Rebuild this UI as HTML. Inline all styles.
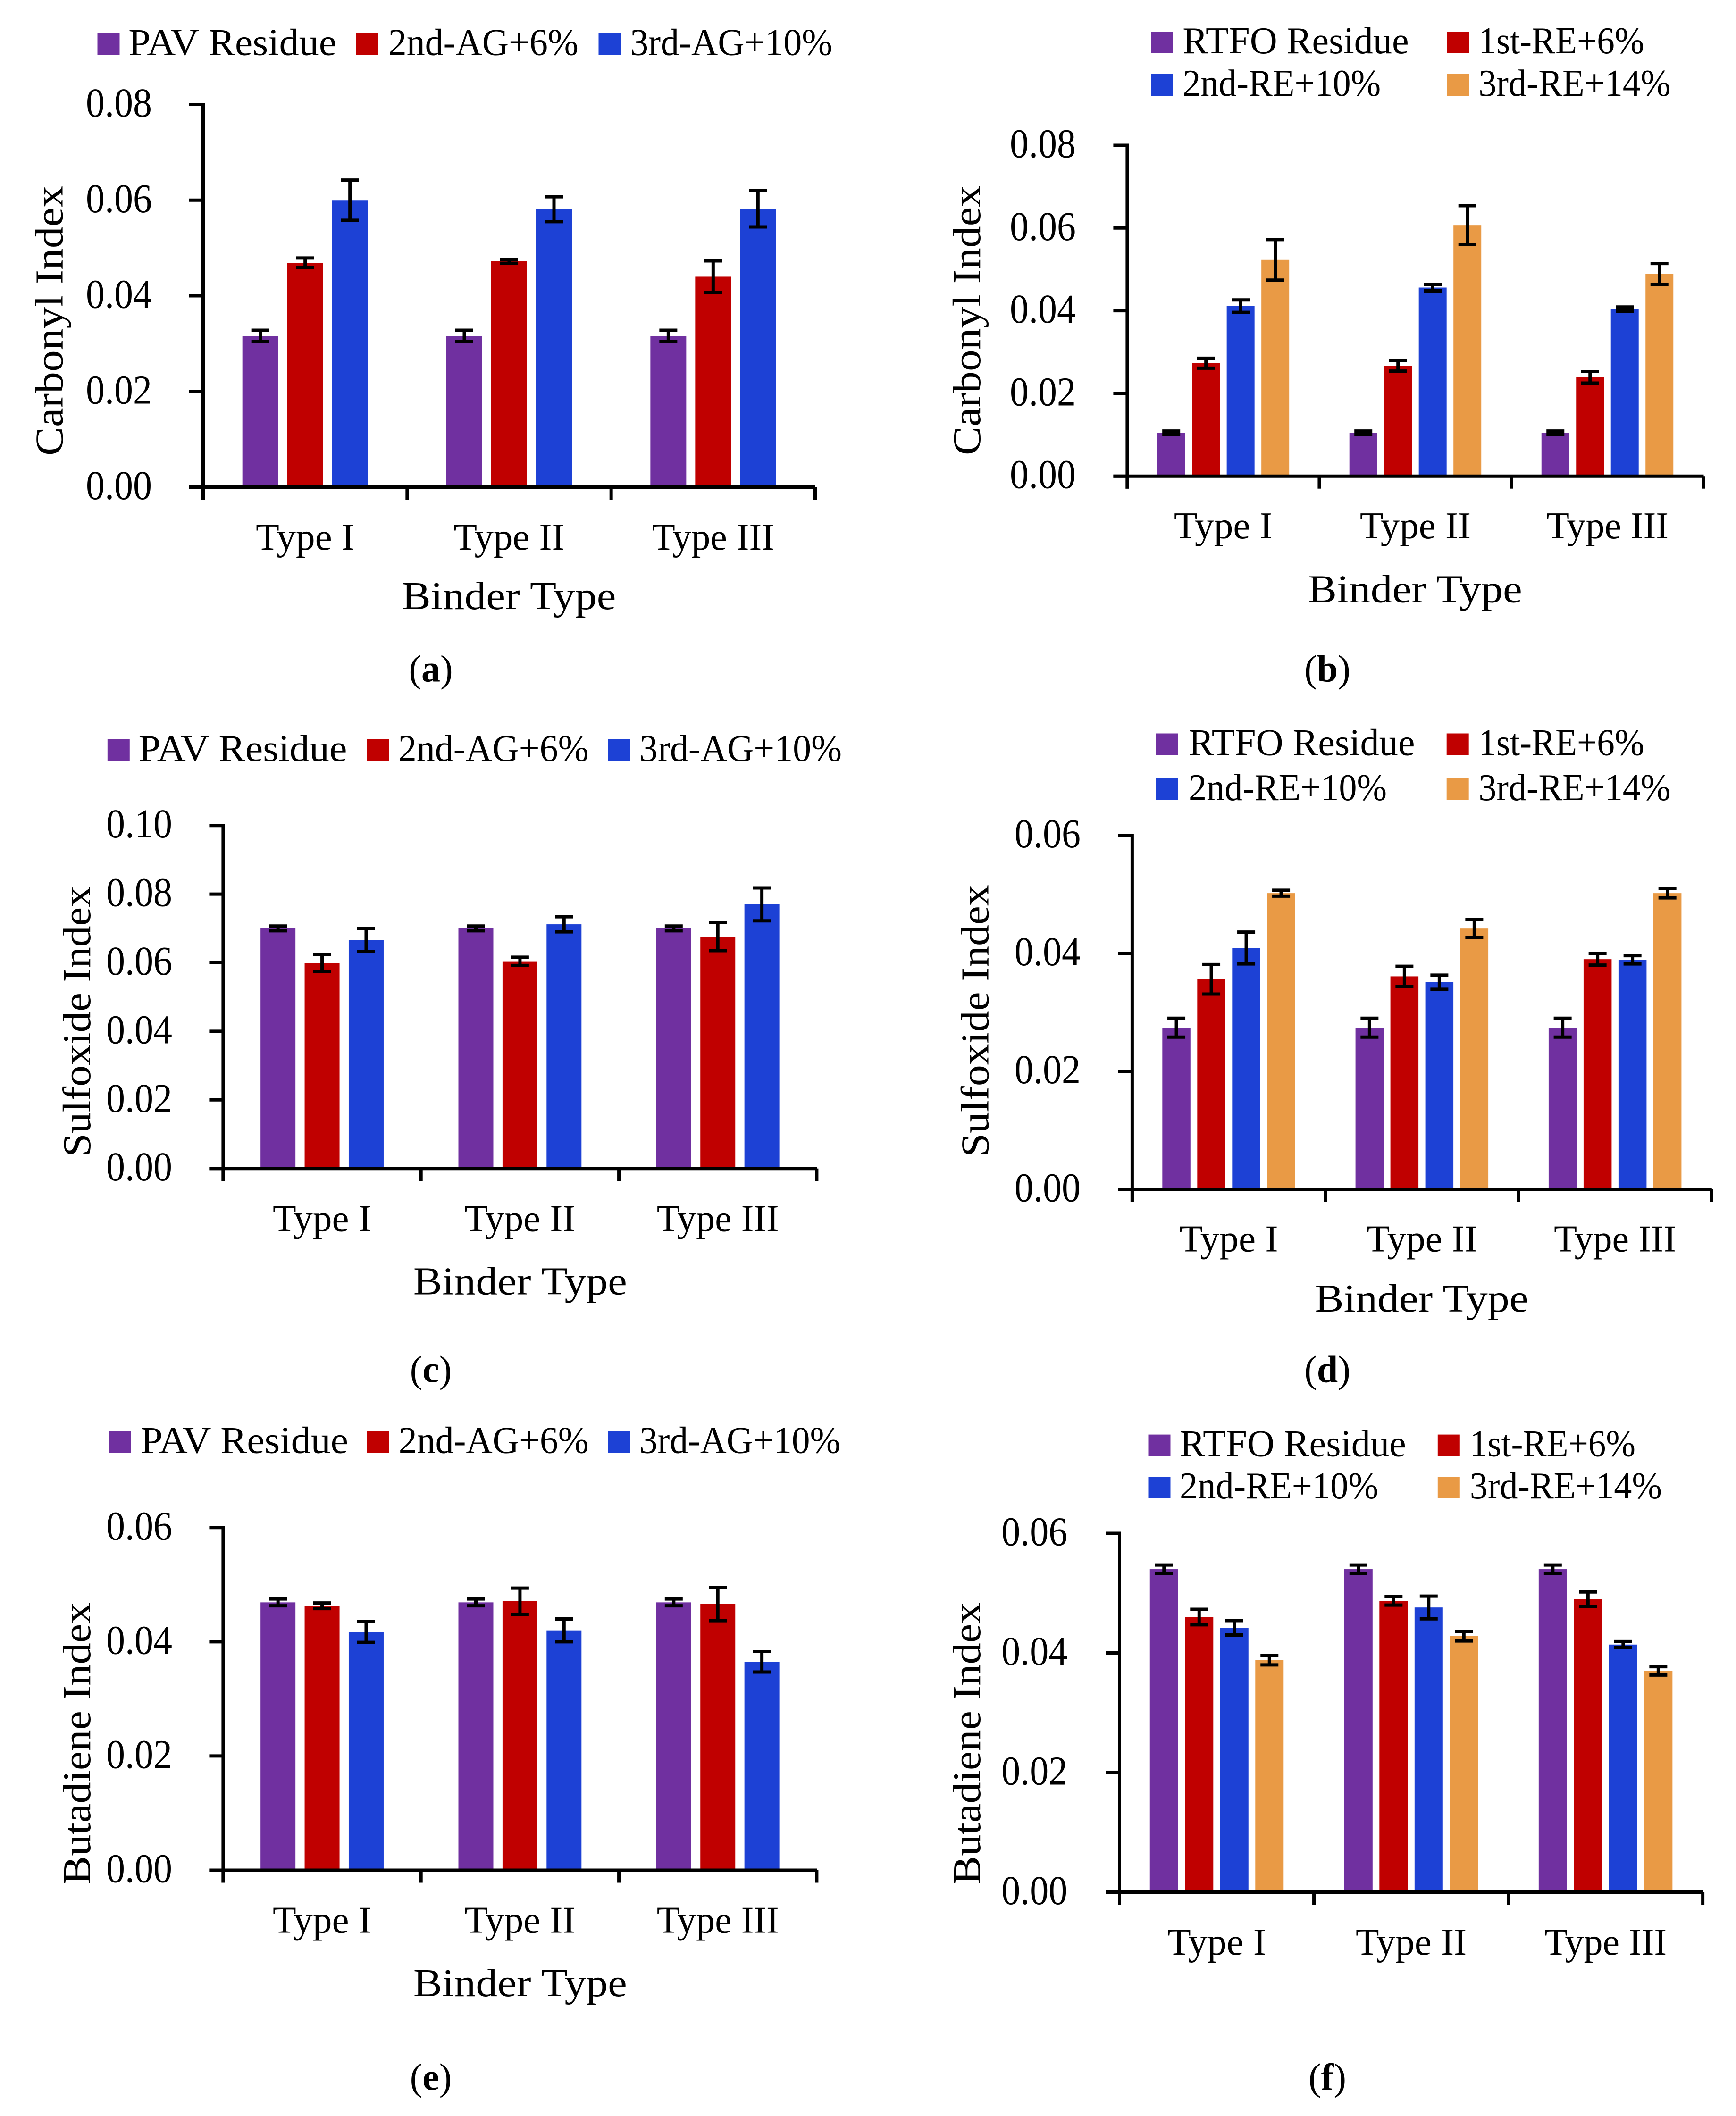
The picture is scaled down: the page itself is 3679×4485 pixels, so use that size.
<!DOCTYPE html>
<html lang="en">
<head>
<meta charset="utf-8">
<title>Carbonyl, Sulfoxide and Butadiene Index by Binder Type</title>
<style>
  html, body { margin: 0; padding: 0; background: #ffffff; }
  svg { display: block; }
  text { font-family: "Liberation Serif", "DejaVu Serif", serif; fill: #000000; }
</style>
</head>
<body>
<svg id="figure" xmlns="http://www.w3.org/2000/svg" width="3679" height="4485" viewBox="0 0 3679 4485">
  <rect width="3679" height="4485" fill="#ffffff"/>

  <g id="panel-a">
    <text transform="translate(132.3 680) rotate(-90)" text-anchor="middle" font-size="84" textLength="572" lengthAdjust="spacingAndGlyphs">Carbonyl Index</text>
    <text x="1078.5" y="1291" text-anchor="middle" font-size="84" textLength="454" lengthAdjust="spacingAndGlyphs">Binder Type</text>
    <text x="913" y="1444.6" text-anchor="middle" font-size="80">(<tspan font-weight="bold">a</tspan>)</text>
  </g>
  <g id="panel-b">
    <text transform="translate(2076.8 679) rotate(-90)" text-anchor="middle" font-size="84" textLength="572" lengthAdjust="spacingAndGlyphs">Carbonyl Index</text>
    <text x="2998.8" y="1276.5" text-anchor="middle" font-size="84" textLength="454" lengthAdjust="spacingAndGlyphs">Binder Type</text>
    <text x="2813" y="1444.6" text-anchor="middle" font-size="80">(<tspan font-weight="bold">b</tspan>)</text>
  </g>
  <g id="panel-c">
    <text transform="translate(191 2165) rotate(-90)" text-anchor="middle" font-size="84" textLength="574" lengthAdjust="spacingAndGlyphs">Sulfoxide Index</text>
    <text x="1102.4" y="2743.6" text-anchor="middle" font-size="84" textLength="453" lengthAdjust="spacingAndGlyphs">Binder Type</text>
    <text x="913" y="2929.7" text-anchor="middle" font-size="80">(<tspan font-weight="bold">c</tspan>)</text>
  </g>
  <g id="panel-d">
    <text transform="translate(2094.7 2163.6) rotate(-90)" text-anchor="middle" font-size="84" textLength="577" lengthAdjust="spacingAndGlyphs">Sulfoxide Index</text>
    <text x="3013" y="2780" text-anchor="middle" font-size="84" textLength="453" lengthAdjust="spacingAndGlyphs">Binder Type</text>
    <text x="2813" y="2929.7" text-anchor="middle" font-size="80">(<tspan font-weight="bold">d</tspan>)</text>
  </g>
  <g id="panel-e">
    <text transform="translate(191 3695.4) rotate(-90)" text-anchor="middle" font-size="84" textLength="598" lengthAdjust="spacingAndGlyphs">Butadiene Index</text>
    <text x="1102.4" y="4231" text-anchor="middle" font-size="84" textLength="453" lengthAdjust="spacingAndGlyphs">Binder Type</text>
    <text x="913" y="4429.7" text-anchor="middle" font-size="80">(<tspan font-weight="bold">e</tspan>)</text>
  </g>
  <g id="panel-f">
    <text transform="translate(2076.8 3695.4) rotate(-90)" text-anchor="middle" font-size="84" textLength="598" lengthAdjust="spacingAndGlyphs">Butadiene Index</text>
    <text x="3986" y="4267" text-anchor="middle" font-size="84" textLength="453" lengthAdjust="spacingAndGlyphs">Binder Type</text>
    <text x="2813" y="4429.7" text-anchor="middle" font-size="80">(<tspan font-weight="bold">f</tspan>)</text>
  </g>
</svg>

<script>
// ---- Shared labels ----
const categories = ['Type I', 'Type II', 'Type III'];
const pavSeriesNames = ['PAV Residue', '2nd-AG+6%', '3rd-AG+10%'];
const rtfoSeriesNames = ['RTFO Residue', '1st-RE+6%', '2nd-RE+10%', '3rd-RE+14%'];
const carbonylPavTicks = ['0.00', '0.02', '0.04', '0.06', '0.08'];
const carbonylRtfoTicks = ['0.00', '0.02', '0.04', '0.06', '0.08'];
const sulfoxidePavTicks = ['0.00', '0.02', '0.04', '0.06', '0.08', '0.10'];
const sulfoxideRtfoTicks = ['0.00', '0.02', '0.04', '0.06'];
const butadienePavTicks = ['0.00', '0.02', '0.04', '0.06'];
const butadieneRtfoTicks = ['0.00', '0.02', '0.04', '0.06'];

// ---- Panel a: Carbonyl, PAV ----
const aPavValues = [0.0316, 0.0316, 0.0316];
const aPavErrors = [0.0012, 0.0012, 0.0012];
const aAg6Values = [0.0469, 0.0472, 0.0440];
const aAg6Errors = [0.0010, 0.0004, 0.0033];
const aAg10Values = [0.0600, 0.0581, 0.0582];
const aAg10Errors = [0.0042, 0.0026, 0.0038];

// ---- Panel b: Carbonyl, RTFO ----
const bRtfoValues = [0.0105, 0.0105, 0.0105];
const bRtfoErrors = [0.0004, 0.0004, 0.0004];
const bRe6Values = [0.0273, 0.0267, 0.0239];
const bRe6Errors = [0.0012, 0.0013, 0.0014];
const bRe10Values = [0.0411, 0.0456, 0.0404];
const bRe10Errors = [0.0015, 0.0008, 0.0005];
const bRe14Values = [0.0523, 0.0607, 0.0489];
const bRe14Errors = [0.0049, 0.0047, 0.0025];

// ---- Panel c: Sulfoxide, PAV ----
const cPavValues = [0.0700, 0.0700, 0.0700];
const cPavErrors = [0.0007, 0.0007, 0.0007];
const cAg6Values = [0.0599, 0.0604, 0.0676];
const cAg6Errors = [0.0025, 0.0012, 0.0041];
const cAg10Values = [0.0666, 0.0712, 0.0770];
const cAg10Errors = [0.0033, 0.0022, 0.0048];

// ---- Panel d: Sulfoxide, RTFO ----
const dRtfoValues = [0.0274, 0.0274, 0.0274];
const dRtfoErrors = [0.0016, 0.0016, 0.0016];
const dRe6Values = [0.0356, 0.0361, 0.0390];
const dRe6Errors = [0.0025, 0.0017, 0.0010];
const dRe10Values = [0.0409, 0.0351, 0.0389];
const dRe10Errors = [0.0027, 0.0012, 0.0007];
const dRe14Values = [0.0502, 0.0442, 0.0502];
const dRe14Errors = [0.0005, 0.0015, 0.0008];

// ---- Panel e: Butadiene, PAV ----
const ePavValues = [0.0469, 0.0469, 0.0469];
const ePavErrors = [0.0006, 0.0006, 0.0006];
const eAg6Values = [0.0463, 0.0471, 0.0466];
const eAg6Errors = [0.0005, 0.0023, 0.0029];
const eAg10Values = [0.0417, 0.0420, 0.0365];
const eAg10Errors = [0.0018, 0.0020, 0.0018];

// ---- Panel f: Butadiene, RTFO ----
const fRtfoValues = [0.0540, 0.0540, 0.0540];
const fRtfoErrors = [0.0007, 0.0007, 0.0007];
const fRe6Values = [0.0460, 0.0487, 0.0490];
const fRe6Errors = [0.0013, 0.0007, 0.0012];
const fRe10Values = [0.0442, 0.0476, 0.0414];
const fRe10Errors = [0.0012, 0.0019, 0.0005];
const fRe14Values = [0.0388, 0.0428, 0.0370];
const fRe14Errors = [0.0008, 0.0008, 0.0007];

// ---- Styling ----
const SVG_NS = 'http://www.w3.org/2000/svg';
const pavColors = ['#7030A0', '#C00000', '#1D41D5'];
const rtfoColors = ['#7030A0', '#C00000', '#1D41D5', '#E99A45'];
const categoryLengths = [209, 235, 259];

// ---- Panel wiring: data plus layout frame ----
const panels = [
  {
    id: 'panel-a', names: pavSeriesNames, colors: pavColors, ticks: carbonylPavTicks,
    values: [aPavValues, aAg6Values, aAg10Values],
    errors: [aPavErrors, aAg6Errors, aAg10Errors],
    frame: { x0: 430.5, x1: 1727.5, y0: 1032.5, yTop: 221.5, barW: 76, gap: 19, tickEnd: 322, catY: 1165 },
    legendFrame: [
      { sx: 206.5, tx: 272.2, len: 441, by: 116.4 },
      { sx: 754, tx: 822.8, len: 403, by: 116.4 },
      { sx: 1268.5, tx: 1335.2, len: 429, by: 116.4 }
    ]
  },
  {
    id: 'panel-b', names: rtfoSeriesNames, colors: rtfoColors, ticks: carbonylRtfoTicks,
    values: [bRtfoValues, bRe6Values, bRe10Values, bRe14Values],
    errors: [bRtfoErrors, bRe6Errors, bRe10Errors, bRe14Errors],
    frame: { x0: 2388.9, x1: 3610, y0: 1009.2, yTop: 308, barW: 59, gap: 14.5, tickEnd: 2280, catY: 1141 },
    legendFrame: [
      { sx: 2439, tx: 2506.2, len: 479.5, by: 113 },
      { sx: 3066.7, tx: 3133.4, len: 351, by: 113 },
      { sx: 2439, tx: 2506.2, len: 420, by: 203 },
      { sx: 3066.7, tx: 3133.4, len: 407, by: 203 }
    ]
  },
  {
    id: 'panel-c', names: pavSeriesNames, colors: pavColors, ticks: sulfoxidePavTicks,
    values: [cPavValues, cAg6Values, cAg10Values],
    errors: [cPavErrors, cAg6Errors, cAg10Errors],
    frame: { x0: 472.9, x1: 1730.9, y0: 2476.7, yTop: 1749.7, barW: 74, gap: 19.4, tickEnd: 365, catY: 2609.3 },
    legendFrame: [
      { sx: 227.8, tx: 293.5, len: 442, by: 1613 },
      { sx: 778, tx: 843.7, len: 404, by: 1613 },
      { sx: 1288.4, tx: 1355, len: 429, by: 1613 }
    ]
  },
  {
    id: 'panel-d', names: rtfoSeriesNames, colors: rtfoColors, ticks: sulfoxideRtfoTicks,
    values: [dRtfoValues, dRe6Values, dRe10Values, dRe14Values],
    errors: [dRtfoErrors, dRe6Errors, dRe10Errors, dRe14Errors],
    frame: { x0: 2399.4, x1: 3627.3, y0: 2520.8, yTop: 1770.6, barW: 59.5, gap: 14.5, tickEnd: 2290, catY: 2652.7 },
    legendFrame: [
      { sx: 2449.3, tx: 2519, len: 479.5, by: 1600.5 },
      { sx: 3065.7, tx: 3133.4, len: 351, by: 1600.5 },
      { sx: 2449.3, tx: 2519, len: 420, by: 1696 },
      { sx: 3065.7, tx: 3133.4, len: 407, by: 1696 }
    ]
  },
  {
    id: 'panel-e', names: pavSeriesNames, colors: pavColors, ticks: butadienePavTicks,
    values: [ePavValues, eAg6Values, eAg10Values],
    errors: [ePavErrors, eAg6Errors, eAg10Errors],
    frame: { x0: 472.9, x1: 1730.9, y0: 3964, yTop: 3237.8, barW: 74, gap: 19.4, tickEnd: 365, catY: 4096.4 },
    legendFrame: [
      { sx: 230.8, tx: 298, len: 440, by: 3079.6 },
      { sx: 778, tx: 844.7, len: 403, by: 3079.6 },
      { sx: 1288.4, tx: 1355, len: 426, by: 3079.6 }
    ]
  },
  {
    id: 'panel-f', names: rtfoSeriesNames, colors: rtfoColors, ticks: butadieneRtfoTicks,
    values: [fRtfoValues, fRe6Values, fRe10Values, fRe14Values],
    errors: [fRtfoErrors, fRe6Errors, fRe10Errors, fRe14Errors],
    frame: { x0: 2372.5, x1: 3608.6, y0: 4010.5, yTop: 3250, barW: 60, gap: 14.5, tickEnd: 2262.2, catY: 4143 },
    legendFrame: [
      { sx: 2433.5, tx: 2500.3, len: 479.5, by: 3086.6 },
      { sx: 3046.8, tx: 3114.9, len: 351, by: 3086.6 },
      { sx: 2433.5, tx: 2500, len: 421, by: 3176 },
      { sx: 3046.8, tx: 3114.9, len: 407, by: 3176 }
    ]
  }
];

function make(tag, attrs, parent) {
  const node = document.createElementNS(SVG_NS, tag);
  Object.keys(attrs).forEach(function (k) { node.setAttribute(k, attrs[k]); });
  parent.appendChild(node);
  return node;
}

function drawLine(parent, x1, y1, x2, y2, width) {
  return make('line', { x1: x1, y1: y1, x2: x2, y2: y2, stroke: '#000000', 'stroke-width': width }, parent);
}

function drawPanel(panel) {
  const root = document.getElementById(panel.id);
  const f = panel.frame;
  const yMax = parseFloat(panel.ticks[panel.ticks.length - 1]);
  const scaleY = function (v) { return f.y0 - (v / yMax) * (f.y0 - f.yTop); };
  const catWidth = (f.x1 - f.x0) / categories.length;
  const seriesCount = panel.values.length;
  const clusterWidth = seriesCount * f.barW + (seriesCount - 1) * f.gap;
  const scaleX = function (c, s) {
    return f.x0 + c * catWidth + (catWidth - clusterWidth) / 2 + s * (f.barW + f.gap);
  };

  // Legend
  panel.names.forEach(function (name, s) {
    const slot = panel.legendFrame[s];
    const swatch = make('rect', { x: slot.sx, y: slot.by - 46, width: 47, height: 46, fill: panel.colors[s] }, root);
    
    
    const label = make('text', { x: slot.tx, y: slot.by, 'font-size': 80, textLength: slot.len, lengthAdjust: 'spacingAndGlyphs' }, root);
    
    
    label.textContent = name;
  });

  // Bars
  panel.values.forEach(function (series, s) {
    series.forEach(function (v, c) {
      const top = scaleY(v);
      const bar = make('rect', { x: scaleX(c, s), y: top, width: f.barW, height: f.y0 - top, fill: panel.colors[s] }, root);
      
      
    });
  });

  // Axes
  const yAxis = drawLine(root, f.x0, f.yTop - 3.5, f.x0, f.y0 + 26.5, 7);
  
  
  const xAxis = drawLine(root, f.x0 - 29.5, f.y0, f.x1 + 0.5, f.y0, 7);
  
  

  panel.ticks.forEach(function (t) {
    const y = scaleY(parseFloat(t));
    const mark = drawLine(root, f.x0 - 29.5, y, f.x0, y, 7);
    
    
    const label = make('text', { x: f.tickEnd, y: y + 25.5, 'text-anchor': 'end', 'font-size': 87, textLength: 140, lengthAdjust: 'spacingAndGlyphs' }, root);
    
    
    label.textContent = t;
  });

  for (let i = 0; i <= categories.length; i++) {
    const x = f.x0 + i * catWidth;
    const mark = drawLine(root, x, f.y0, x, f.y0 + 26.5, 7);
    
    
  }

  categories.forEach(function (name, c) {
    const label = make('text', { x: f.x0 + (c + 0.5) * catWidth, y: f.catY, 'text-anchor': 'middle', 'font-size': 80, textLength: categoryLengths[c], lengthAdjust: 'spacingAndGlyphs' }, root);
    
    
    label.textContent = name;
  });

  // Error bars
  panel.errors.forEach(function (series, s) {
    series.forEach(function (e, c) {
      const v = panel.values[s][c];
      const cx = scaleX(c, s) + f.barW / 2;
      const hi = scaleY(v + e);
      const lo = scaleY(v - e);
      const group = make('g', {}, root);
      
      
      drawLine(group, cx, hi, cx, lo, 7);
      drawLine(group, cx - 19, hi, cx + 19, hi, 7);
      drawLine(group, cx - 19, lo, cx + 19, lo, 7);
    });
  });
}

panels.forEach(drawPanel);
</script>
</body>
</html>
